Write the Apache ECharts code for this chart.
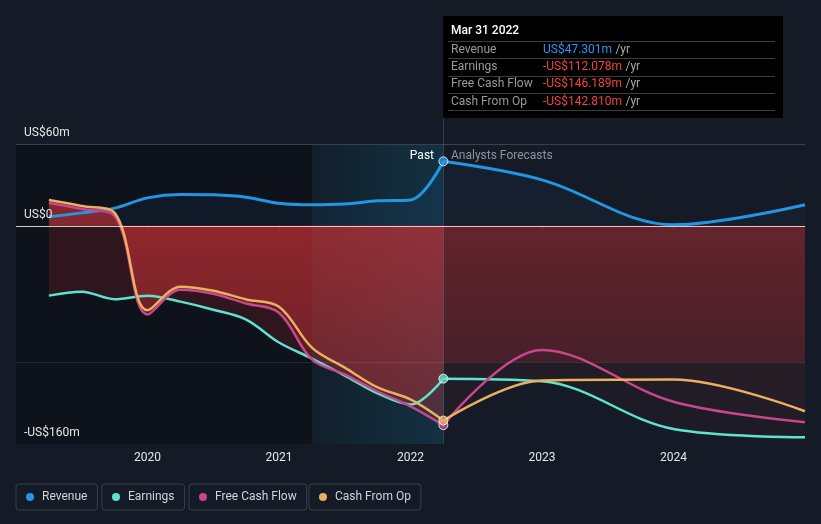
<!DOCTYPE html>
<html><head><meta charset="utf-8">
<script src="https://cdn.jsdelivr.net/npm/echarts@6/dist/echarts.min.js"></script>
<style>html,body{margin:0;padding:0;background:#151b26;}#c{width:821px;height:524px;}</style>
</head><body><div id="c"></div>
<script>
// ---- data ----
const pastDates = [2019.25,2019.5,2019.75,2020.0,2020.25,2020.5,2020.75,2021.0,2021.25,2021.5,2021.75,2022.0,2022.25];
const forecastDates = [2022.25,2023.0,2024.0,2025.0];
const revenuePast = [6.6,9.5,13,20.5,23,22.7,21,16.5,15.4,16,18.3,19,47.301];
const revenueForecast = [47.301,33.7,0.7,15.4];
const earningsPast = [-51.2,-48.3,-53.8,-51.2,-55.6,-61.5,-68.8,-85.6,-97.3,-109.8,-122.9,-131,-112.078];
const earningsForecast = [-112.078,-114,-149,-155];
const fcfPast = [16.8,12.4,7.3,-65,-46.8,-49.8,-57,-63.7,-98,-109,-121.5,-132.4,-146.189];
const fcfForecast = [-146.189,-91,-129,-144];
const cfoPast = [19,14.6,9.5,-62,-44.6,-47.6,-54,-59.3,-89.3,-104,-118.5,-127.3,-142.81];
const cfoForecast = [-142.81,-113.4,-112.7,-136];
const seriesNames = ['Revenue','Earnings','Free Cash Flow','Cash From Op'];
const yTickLabels = {'60':'US$60m','0':'US$0','-160':'-US$160m'};
const xTickLabels = [2020,2021,2022,2023,2024];
const tooltipDate = 'Mar 31 2022';
const pastEnd = 2022.25;
const bandStart = 2021.25;

// ---- styles ----
const colors = ['#2396e3','#5de3cf','#c8468c','#ebaf5f'];
const FONT = 'Roboto';
const pair = (xs, ys) => xs.map((x,i)=>[x, ys[i]]);
const redGrad = (a1,a2) => ({type:'linear',x:0,y:0,x2:0,y2:1,colorStops:[{offset:0,color:`rgba(210,50,55,${a1})`},{offset:1,color:`rgba(210,50,55,${a2})`}]});

function lineSeries(name, color, data, area, width){
  return {type:'line', name, data, smooth:0.35, showSymbol:false, symbol:'none',
    lineStyle:{color, width: width||2.5}, itemStyle:{color},
    areaStyle: area ? {color: area, origin:'auto'} : undefined, z:2, silent:true, animation:false};
}

const chart = echarts.init(document.getElementById('c'), null, {renderer:'canvas'});

const splitColors = [];
for (let v=-160; v<=60; v+=20){
  if (v===0) splitColors.push('rgba(255,235,235,0.8)');
  else if (v===60) splitColors.push('#3a404c');
  else if (v===-100) splitColors.push('rgba(255,255,255,0.09)');
  else splitColors.push('rgba(0,0,0,0)');
}

const legendLefts = [16,102,189,309];

const option = {
  backgroundColor:'#151b26',
  animation:false,
  grid:{left:16,right:16,top:144,bottom:80},
  xAxis:{type:'value', min:2019, max:2025, interval:1,
    axisLine:{show:true, lineStyle:{color:'#3a414d'}},
    axisTick:{show:true, length:4, customValues:xTickLabels, lineStyle:{color:'#3a414d'}},
    axisLabel:{color:'#e6e6e6', fontSize:12, fontFamily:FONT, margin:8, customValues:xTickLabels, formatter:v=>String(Math.round(v))},
    splitLine:{show:false}},
  yAxis:{type:'value', min:-160, max:60, interval:20, z:10,
    axisLine:{show:false}, axisTick:{show:false},
    axisLabel:{inside:true, margin:8, verticalAlign:'bottom', padding:[0,0,5,0], color:'#e6e6e6', fontSize:12, fontFamily:FONT,
      formatter:v=>yTickLabels[String(Math.round(v))]||''},
    splitLine:{show:true, lineStyle:{color:splitColors, width:1}}},
  legend: seriesNames.map((n,i)=>({data:[n], left:legendLefts[i], top:484, icon:'circle', itemWidth:8, itemHeight:8,
    padding:[7,10,7,10], borderColor:'#3a404b', borderWidth:1, borderRadius:3, selectedMode:false,
    textStyle:{color:'#cfd3da', fontSize:12, fontFamily:FONT, padding:[0,0,0,3]}})),
  series:[
    {type:'line', name:'bg', data:[], silent:true, z:1,
      markArea:{silent:true, data:[
        [{xAxis:2019, yAxis:60, itemStyle:{color:'rgba(0,0,0,0.3)'}},{xAxis:pastEnd, yAxis:-160}],
        [{xAxis:pastEnd, yAxis:0, itemStyle:{color:{type:'linear',x:0,y:0,x2:0,y2:1,colorStops:[{offset:0,color:'rgba(200,50,55,0.38)'},{offset:1,color:'rgba(200,50,55,0.2)'}]}}},{xAxis:2025, yAxis:-100}]
      ]}},
    lineSeries(seriesNames[0], colors[0], pair(pastDates, revenuePast), 'rgba(35,110,180,0.12)', 3),
    lineSeries(seriesNames[0], colors[0], pair(forecastDates, revenueForecast), 'rgba(35,110,180,0.08)', 3),
    lineSeries(seriesNames[1], colors[1], pair(pastDates, earningsPast), 'rgba(200,45,50,0.26)'),
    lineSeries(seriesNames[1], colors[1], pair(forecastDates, earningsForecast), 'rgba(200,45,50,0.06)'),
    lineSeries(seriesNames[2], colors[2], pair(pastDates, fcfPast), redGrad(0.55,0.22)),
    lineSeries(seriesNames[2], colors[2], pair(forecastDates, fcfForecast), 'rgba(200,45,50,0.05)'),
    lineSeries(seriesNames[3], colors[3], pair(pastDates, cfoPast), redGrad(0.55,0.22)),
    lineSeries(seriesNames[3], colors[3], pair(forecastDates, cfoForecast), 'rgba(200,45,50,0.05)'),
    {type:'line', name:'band', data:[], silent:true, z:3,
      markArea:{silent:true, data:[
        [{xAxis:bandStart, yAxis:60, itemStyle:{color:{type:'linear',x:0,y:0,x2:1,y2:0,colorStops:[{offset:0,color:'rgba(40,125,160,0.12)'},{offset:1,color:'rgba(30,120,160,0.3)'}]}}},{xAxis:pastEnd, yAxis:-160}]
      ]}},
    {type:'scatter', name:'markers', z:5, silent:true, symbolSize:9,
      data:[
        {value:[pastEnd, revenuePast[revenuePast.length-1]], itemStyle:{color:colors[0]}},
        {value:[pastEnd, earningsPast[earningsPast.length-1]], itemStyle:{color:colors[1]}},
        {value:[pastEnd, fcfPast[fcfPast.length-1]], itemStyle:{color:colors[2]}},
        {value:[pastEnd, cfoPast[cfoPast.length-1]], itemStyle:{color:colors[3]}}
      ],
      itemStyle:{borderColor:'#ffffff', borderWidth:1}}
  ]
};
chart.setOption(option);

// ---- annotations anchored to the axes ----
const p0 = chart.convertToPixel({xAxisIndex:0,yAxisIndex:0},[pastEnd,60]);
const p1 = chart.convertToPixel({xAxisIndex:0,yAxisIndex:0},[pastEnd,-160]);
const x0 = Math.round(p0[0]);
const topY = p0[1];
const botY = p1[1];
const fmt = v => (v<0?'-':'') + 'US$' + Math.abs(v).toFixed(3) + 'm';
const lastVals = [revenuePast, earningsPast, fcfPast, cfoPast].map(a=>a[a.length-1]);
const boxTop = 16, rowH = 17.3, firstSep = 41;
const els = [
  {type:'line', shape:{x1:x0+0.5,y1:boxTop,x2:x0+0.5,y2:botY}, style:{stroke:'rgba(130,150,170,0.28)',lineWidth:1}, z:20},
  {type:'rect', shape:{x:x0, y:boxTop, width:340, height:102}, style:{fill:'#000000'}, z:30},
  {type:'text', x:x0+8, y:31, style:{text:tooltipDate, fill:'#ffffff', font:`500 12px ${FONT}`, verticalAlign:'middle'}, z:31},
  {type:'text', x:x0+5, y:topY+12, style:{text:'Past', fill:'#ffffff', font:`12px ${FONT}`, align:'right', verticalAlign:'middle'}, z:31, left:null},
  {type:'text', x:x0+8, y:topY+12, style:{text:'Analysts Forecasts', fill:'#8d929b', font:`12px ${FONT}`, verticalAlign:'middle'}, z:31}
];
els[3].x = x0 - 9;
for (let i=0;i<=4;i++){
  const y = Math.round(firstSep + i*rowH)+0.5;
  els.push({type:'line', shape:{x1:x0+5,y1:y,x2:x0+332,y2:y}, style:{stroke:'#3d3d3d',lineWidth:1}, z:31});
}
seriesNames.forEach((n,i)=>{
  const cy = firstSep + i*rowH + rowH/2;
  els.push({type:'text', x:x0+8, y:cy, style:{text:n, fill:'#9a9a9a', font:`12px ${FONT}`, verticalAlign:'middle'}, z:31});
  els.push({type:'text', x:x0+100, y:cy, style:{text:`{v|${fmt(lastVals[i])}} {u|/yr}`, verticalAlign:'middle',
    rich:{v:{fill: lastVals[i]<0?'#f2443a':'#2196f3', font:`12px ${FONT}`}, u:{fill:'#a8a8a8', font:`12px ${FONT}`}}}, z:31});
});
chart.setOption({graphic:{elements:els}});
</script></body></html>
